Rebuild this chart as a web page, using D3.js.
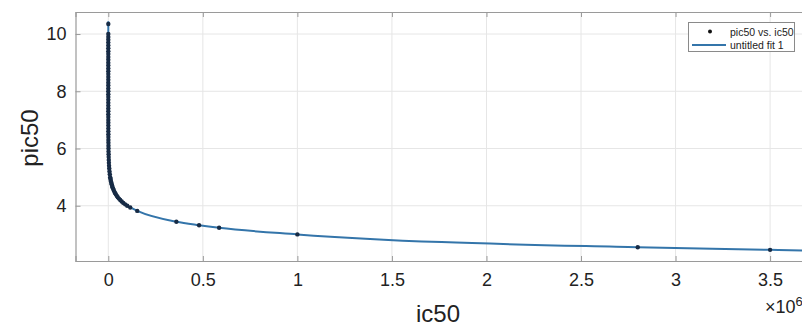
<!DOCTYPE html>
<html>
<head>
<meta charset="utf-8">
<script src="https://cdn.jsdelivr.net/npm/d3@7"></script>
<style>
html,body{margin:0;padding:0;background:#fff;overflow:hidden;}
svg{display:block;font-family:"Liberation Sans",Arial,Helvetica,sans-serif;}
</style>
</head>
<body>
<svg id="chart" width="802" height="327"></svg>
<script>
// ---- data (ic50 in raw units, pic50) ----
const ic50 = [0.045, 0.1, 0.126, 0.158, 0.2, 0.251, 0.316, 0.398, 0.501, 0.631, 0.794,
  1, 1.26, 1.58, 2.0, 2.51, 3.16, 3.98, 5.01, 6.31, 7.94,
  10, 12.6, 15.8, 20, 25.1, 31.6, 39.8, 50.1, 63.1, 79.4,
  100, 126, 158, 200, 251, 316, 398, 501, 631, 794,
  1000, 1259, 1585, 1995, 2512, 3162, 3981, 5012, 6310, 7943,
  10000, 11220, 12589, 14125, 15849, 17783, 19953, 22387, 25119, 28184, 31623, 35481,
  39811, 44668, 50119, 56234, 63096, 70795, 79433, 89125,
  100000, 116000, 153000, 360000, 480000, 586000, 1000000, 2800000, 3500000];
const pic50 = [10.35, 10.0, 9.9, 9.8, 9.7, 9.6, 9.5, 9.4, 9.3, 9.2, 9.1,
  9.0, 8.9, 8.8, 8.7, 8.6, 8.5, 8.4, 8.3, 8.2, 8.1,
  8.0, 7.9, 7.8, 7.7, 7.6, 7.5, 7.4, 7.3, 7.2, 7.1,
  7.0, 6.9, 6.8, 6.7, 6.6, 6.5, 6.4, 6.3, 6.2, 6.1,
  6.0, 5.9, 5.8, 5.7, 5.6, 5.5, 5.4, 5.3, 5.2, 5.1,
  5.0, 4.95, 4.9, 4.85, 4.8, 4.75, 4.7, 4.65, 4.6, 4.55, 4.5, 4.45,
  4.4, 4.35, 4.3, 4.25, 4.2, 4.15, 4.1, 4.05,
  4.0, 3.94, 3.82, 3.44, 3.32, 3.23, 3.0, 2.55, 2.46];
// fit curve end points beyond the data range
const fitStart = [0.035, 10.45];
const fitEnd = [3700000, 2.43];
const xTicks = [0, 0.5e6, 1e6, 1.5e6, 2e6, 2.5e6, 3e6, 3.5e6];
const xTickLabels = ["0", "0.5", "1", "1.5", "2", "2.5", "3", "3.5"];
const yTicks = [4, 6, 8, 10];
const yTickLabels = ["4", "6", "8", "10"];
const legendLabels = ["pic50 vs. ic50", "untitled fit 1"];

// ---- layout ----
const svg = d3.select("#chart");
const L = 75.5, T = 12, B = 261, R = 803;
const x = d3.scaleLinear().domain([-0.1735e6, 3.674e6]).range([L, R]);
const y = d3.scaleLinear().domain([2.07, 10.77]).range([B, T]);
const axisCol = "#9a9a9a", gridCol = "#e6e6e6";

svg.append("defs").append("clipPath").attr("id", "clip")
  .append("rect").attr("x", L).attr("y", T).attr("width", R - L).attr("height", B - T);

// grid
const g = svg.append("g");
g.selectAll(".gx").data(xTicks).join("line")
  .attr("x1", d => x(d)).attr("x2", d => x(d)).attr("y1", T).attr("y2", B)
  .attr("stroke", gridCol).attr("stroke-width", 1);
g.selectAll(".gy").data(yTicks).join("line")
  .attr("x1", L).attr("x2", R).attr("y1", d => y(d)).attr("y2", d => y(d))
  .attr("stroke", gridCol).attr("stroke-width", 1);

// axes with inward ticks
const xAxisB = d3.axisBottom(x).tickValues(xTicks).tickSize(-5).tickFormat((d, i) => xTickLabels[i]).tickPadding(12);
const xAxisT = d3.axisTop(x).tickValues(xTicks).tickSize(-5).tickFormat("");
const yAxisL = d3.axisLeft(y).tickValues(yTicks).tickSize(-5).tickFormat((d, i) => yTickLabels[i]).tickPadding(9);

function style(sel) {
  sel.select(".domain").attr("stroke", axisCol).attr("stroke-width", 1.2);
  sel.selectAll(".tick line").attr("stroke", axisCol).attr("stroke-width", 1);
  sel.selectAll(".tick text").attr("fill", "#222").style("font-size", "18px")
     .style("font-family", '"Liberation Sans",Arial,sans-serif');
}
svg.append("g").attr("transform", `translate(0,${B})`).call(xAxisB).call(style);
svg.append("g").attr("transform", `translate(0,${T})`).call(xAxisT).call(style);
svg.append("g").attr("transform", `translate(${L},0)`).call(yAxisL).call(style);

// fit line
const pts = ic50.map((d, i) => [d, pic50[i]]);
const fitPts = [fitStart, ...pts, fitEnd];
const line = d3.line().x(d => x(d[0])).y(d => y(d[1])).curve(d3.curveMonotoneX);
const plot = svg.append("g").attr("clip-path", "url(#clip)");
plot.append("path").datum(fitPts).attr("d", line)
  .attr("fill", "none").attr("stroke", "#3475aa").attr("stroke-width", 2);

// data points
plot.selectAll("circle").data(pts).join("circle")
  .attr("cx", d => x(d[0])).attr("cy", d => y(d[1])).attr("r", 2.2)
  .attr("fill", "#172b45");

// exponent label
const ex = svg.append("text").attr("x", 765).attr("y", 313).attr("fill", "#222")
  .style("font-size", "18px");
ex.append("tspan").text("×10");
ex.append("tspan").attr("dy", -7).style("font-size", "13px").text("6");

// axis labels
svg.append("text").attr("x", 438).attr("y", 322).attr("text-anchor", "middle")
  .attr("fill", "#222").style("font-size", "24px").text("ic50");
svg.append("text").attr("transform", "translate(38,138) rotate(-90)").attr("text-anchor", "middle")
  .attr("fill", "#222").style("font-size", "24px").text("pic50");

// legend
const lg = svg.append("g");
lg.append("rect").attr("x", 688.5).attr("y", 22.5).attr("width", 106).attr("height", 29)
  .attr("fill", "#fff").attr("stroke", "#8a8a8a").attr("stroke-width", 1);
lg.append("circle").attr("cx", 710).attr("cy", 31.5).attr("r", 2).attr("fill", "#111");
lg.append("line").attr("x1", 692).attr("x2", 726).attr("y1", 45).attr("y2", 45)
  .attr("stroke", "#3475aa").attr("stroke-width", 2);
lg.selectAll("text").data(legendLabels).join("text")
  .attr("x", 730).attr("y", (d, i) => 35.5 + i * 13.5)
  .attr("fill", "#222").style("font-size", "10.5px").text(d => d);
</script>
</body>
</html>
